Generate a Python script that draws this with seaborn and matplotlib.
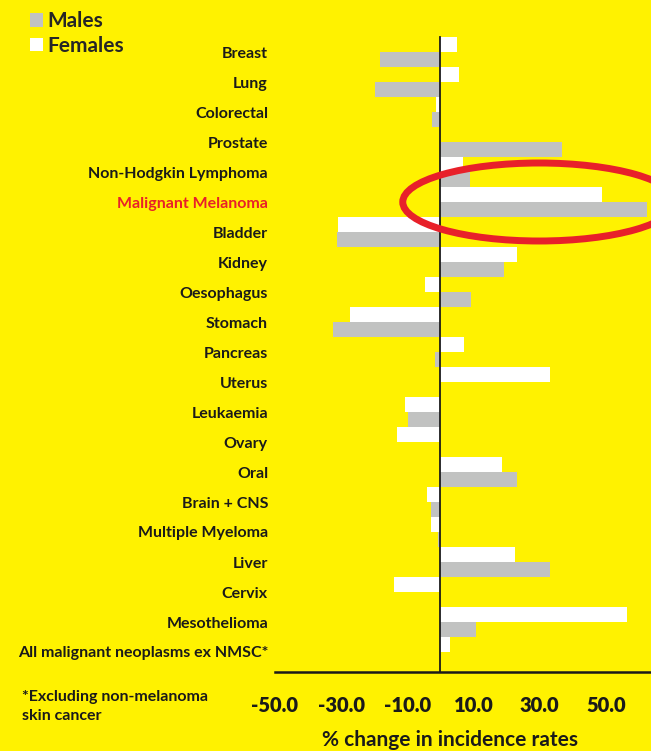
"""
Percent change in cancer incidence rates by site, males vs females.
"""

import matplotlib
matplotlib.use("Agg")
import matplotlib.pyplot as plt
from matplotlib.patches import Ellipse, Patch
import numpy as np
import pandas as pd
import seaborn as sns

YELLOW = "#fff200"
GREY = "#c1c2c1"
RED = "#e8202a"
INK = "#1a1a1a"

CANCERS = [
    "Breast", "Lung", "Colorectal", "Prostate", "Non-Hodgkin Lymphoma",
    "Malignant Melanoma", "Bladder", "Kidney", "Oesophagus", "Stomach",
    "Pancreas", "Uterus", "Leukaemia", "Ovary", "Oral", "Brain + CNS",
    "Multiple Myeloma", "Liver", "Cervix", "Mesothelioma",
    "All malignant neoplasms ex NMSC*",
]
NAN = np.nan
FEMALES = [5.0, 5.5, -1.3, NAN, 6.9, 48.7, -30.9, 23.2, -4.8, -27.4, 7.2,
           33.0, -10.6, -13.1, 18.7, -4.0, -2.8, 22.6, -14.1, 56.3, 2.9]
MALES = [-18.3, -19.8, -2.5, 36.6, 9.0, 62.3, -31.4, 19.3, 9.3, -32.5, -1.6,
         NAN, -9.8, NAN, 23.0, -2.8, -0.8, 33.0, NAN, 10.8, NAN]
X_TICKS = [-50, -30, -10, 10, 30, 50]
GRID_AT = [-30, -10, 10, 30]
HIGHLIGHT = "Malignant Melanoma"

sns.set_theme(style="white")
plt.rcParams["font.family"] = ["Lato", "DejaVu Sans"]
plt.rcParams["font.weight"] = "bold"

df = pd.DataFrame({
    "cancer": CANCERS * 2,
    "sex": ["Females"] * len(CANCERS) + ["Males"] * len(CANCERS),
    "change": FEMALES + MALES,
}).dropna()

fig = plt.figure(figsize=(6.51, 7.51), dpi=100, facecolor=YELLOW)
ax = fig.add_axes([275 / 651, 1 - 672 / 751, 376 / 651, 635 / 751])
ax.set_facecolor(YELLOW)

sns.barplot(data=df, y="cancer", x="change", hue="sex", order=CANCERS,
            hue_order=["Females", "Males"],
            palette={"Females": "white", "Males": GREY},
            orient="h", width=1.0, errorbar=None, saturation=1,
            linewidth=0, legend=False, ax=ax)

n = len(CANCERS)
ax.set_xlim(-50, 63.6)
ax.set_ylim(n - 0.5 + 5 / 30, -0.5)

# zero line with category separators
for side in ["top", "right"]:
    ax.spines[side].set_visible(False)
ax.spines["left"].set_position(("data", 0))
ax.spines["left"].set_color(INK)
ax.spines["left"].set_linewidth(1.3)
ax.set_yticks(np.arange(-0.5, n - 1, 1))
ax.set_yticklabels([])
ax.tick_params(axis="y", length=5, width=1.4, color=INK, direction="out")
ax.set_ylabel("")

ax.spines["bottom"].set_color(INK)
ax.spines["bottom"].set_linewidth(1.8)
ax.set_xticks(X_TICKS)
ax.set_xticklabels([f"{v:.1f}" for v in X_TICKS], fontsize=14.5,
                   fontweight="heavy", color=INK)
ax.tick_params(axis="x", length=8, width=1.8, color=INK, pad=9)
ax.set_xticks(GRID_AT, minor=True)
ax.tick_params(axis="x", which="minor", length=0)
ax.grid(False)
ax.grid(which="minor", axis="x", color="#d4d4c0", linewidth=1.2,
        linestyle=(0, (1.5, 2.5)))
ax.set_axisbelow(True)

ax.set_xlabel("% change in incidence rates", fontsize=15, fontweight="bold",
              color=INK)
ax.xaxis.set_label_coords((450 - 275) / 376, (672 - 730) / 635)

# category names
ytrans = ax.get_yaxis_transform()
for i, name in enumerate(CANCERS):
    ax.text(-7 / 376, i + 0.05, name, transform=ytrans, ha="right", va="center",
            fontsize=11.5, fontweight="bold",
            color=RED if name == HIGHLIGHT else INK)

# highlight ring around melanoma
hi = CANCERS.index(HIGHLIGHT)
ring = Ellipse((29.8, hi), width=82.4, height=2.6, fill=False,
               edgecolor=RED, linewidth=5, clip_on=False, zorder=5)
ax.add_patch(ring)

handles = [Patch(facecolor=GREY, edgecolor="none", label="Males"),
           Patch(facecolor="white", edgecolor="none", label="Females")]
fig.legend(handles=handles, loc="upper left", bbox_to_anchor=(20 / 651, 1 - 1 / 751),
           frameon=False, handlelength=0.6, handleheight=0.6,
           handletextpad=0.2, labelspacing=0.22, borderpad=0,
           prop={"weight": "bold", "size": 15})

fig.text(22 / 651, 1 - 690 / 751, "*Excluding non-melanoma\nskin cancer",
         ha="left", va="top", fontsize=11.5, fontweight="bold", color=INK,
         linespacing=1.45)

fig.savefig("out.png", dpi=100, facecolor=YELLOW)
plt.close(fig)
